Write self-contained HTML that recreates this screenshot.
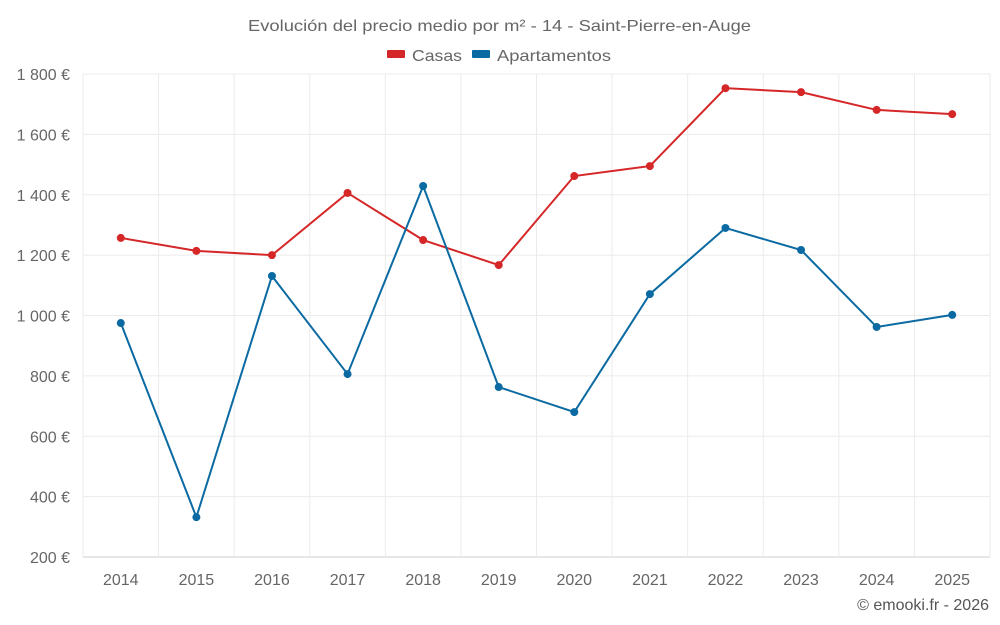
<!DOCTYPE html>
<html><head><meta charset="utf-8"><style>
html,body{margin:0;padding:0;background:#fff;}
svg{display:block;font-family:"Liberation Sans",sans-serif;}
</style></head><body>
<svg id="chart" width="1000" height="625">
<text x="248" y="31" textLength="503" lengthAdjust="spacingAndGlyphs" font-size="16" fill="#666">Evolución del precio medio por m² - 14 - Saint-Pierre-en-Auge</text>
<g>
<g><rect x="387" y="50" width="18" height="8" rx="1" fill="#d62728"/><text x="412" y="61" textLength="50" lengthAdjust="spacingAndGlyphs" font-size="16" fill="#666">Casas</text></g>
<g><rect x="472" y="50" width="18" height="8" rx="1" fill="#0a6aa1"/><text x="497" y="61" textLength="114" lengthAdjust="spacingAndGlyphs" font-size="16" fill="#666">Apartamentos</text></g>
</g>
<g id="grid"></g><g id="axes"></g><g id="series"></g>
<text x="989" y="610" text-anchor="end" font-size="16" fill="#555">© emooki.fr - 2026</text>
</svg>
<script>
const years=["2014","2015","2016","2017","2018","2019","2020","2021","2022","2023","2024","2025"];
const casas=[1257,1214,1200,1406,1250,1167,1462,1495,1753,1740,1681,1667];
const apartamentos=[975,332,1131,806,1429,763,680,1071,1290,1217,962,1002];
const yTicks=[200,400,600,800,1000,1200,1400,1600,1800];
const yTickLabels=["200 €","400 €","600 €","800 €","1 000 €","1 200 €","1 400 €","1 600 €","1 800 €"];
const NS="http://www.w3.org/2000/svg";
const L=83,R=990,T=74,B=557,yMin=200,yMax=1800;
const x=i=>L+(R-L)*(i+0.5)/years.length;
const y=v=>B-(v-yMin)/(yMax-yMin)*(B-T);
function mk(t,a,p){const e=document.createElementNS(NS,t);for(const k in a)e.setAttribute(k,a[k]);p.appendChild(e);return e;}
const grid=document.getElementById('grid'),axes=document.getElementById('axes'),ser=document.getElementById('series');
yTicks.forEach((v,i)=>{
 const l=mk('line',{x1:L,x2:R,y1:y(v),y2:y(v),stroke:v===yMin?'#ccc':'#ebebeb','stroke-width':1},grid);
 
 
 const t=mk('text',{x:70,y:y(v)+6,'text-anchor':'end','font-size':16,fill:'#666'},axes);
 t.textContent=yTickLabels[i];
 
 
});
for(let i=0;i<=years.length;i++){
 const gx=L+(R-L)*i/years.length;
 const l=mk('line',{x1:gx,x2:gx,y1:T,y2:B,stroke:'#ebebeb','stroke-width':1},grid);
 
 
}
years.forEach((yr,i)=>{
 const t=mk('text',{x:x(i),y:585,'text-anchor':'middle','font-size':16,fill:'#666'},axes);
 t.textContent=yr;
 
 
});
function series(vals,color,name){
 const g=mk('g',{},ser);
 
 
 const p=mk('polyline',{points:vals.map((v,i)=>x(i)+','+y(v)).join(' '),fill:'none',stroke:color,'stroke-width':2},g);
 
 
 vals.forEach((v,i)=>{
  const c=mk('circle',{cx:x(i),cy:y(v),r:4,fill:color},g);
  
  
 });
}
series(casas,'#d62728','casas');
series(apartamentos,'#0a6aa1','apartamentos');
</script>
</body></html>
